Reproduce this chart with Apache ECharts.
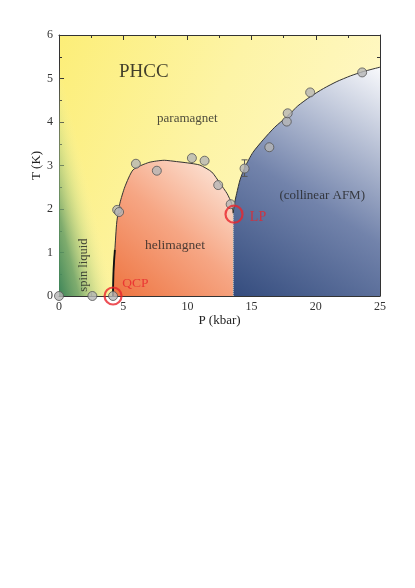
<!DOCTYPE html>
<html>
<head>
<meta charset="utf-8">
<script src="https://cdn.jsdelivr.net/npm/echarts@6/dist/echarts.min.js"></script>
<style>
html,body{margin:0;padding:0;background:#fff;}
#c{width:415px;height:588px;}
</style>
</head>
<body>
<div id="c"></div>
<script>
// ---- data ----
const xTicks = [0, 5, 10, 15, 20, 25];
const yTicks = [0, 1, 2, 3, 4, 5, 6];
// measured points (P kbar, T K)
const measP = [0, 2.6, 4.21, 4.53, 4.68, 5.99, 7.62, 10.35, 11.34, 12.4, 13.37, 14.45, 16.38, 17.74, 17.81, 19.56, 23.61];
const measT = [0, 0, 0, 1.98, 1.93, 3.04, 2.88, 3.17, 3.11, 2.55, 2.11, 2.93, 3.42, 4.01, 4.2, 4.68, 5.14];
// error bar on one point: [P, low, high]
const errBar = [[14.45, 2.75, 3.13]];
// helimagnet phase boundary
const heliP = [4.2, 4.25, 4.35, 4.5, 4.74, 5.13, 5.77, 7.0, 8.2, 9.16, 10.0, 10.97, 11.9, 12.54, 13.1, 13.44, 13.57];
const heliT = [0, 0.6, 1.06, 1.7, 2.13, 2.51, 2.9, 3.07, 3.12, 3.09, 3.06, 3.01, 2.85, 2.59, 2.35, 2.13, 1.9];
// collinear AFM phase boundary
const afmP = [13.57, 13.65, 13.84, 14.1, 14.49, 15.1, 15.9, 16.8, 17.74, 18.6, 19.56, 20.6, 21.64, 22.7, 23.7, 25];
const afmT = [1.9, 2.1, 2.36, 2.67, 2.97, 3.3, 3.59, 3.88, 4.12, 4.37, 4.58, 4.77, 4.93, 5.06, 5.16, 5.26];
// special points
const specialNames = ['QCP', 'LP'];
const specialP = [4.21, 13.63];
const specialT = [0, 1.88];
// region labels
const labelTexts = ['PHCC', 'paramagnet', 'helimagnet', '(collinear AFM)', 'spin liquid', 'QCP', 'LP'];
const labelP = [6.6, 10.0, 9.03, 20.5, 1.93, 5.95, 15.5];
const labelT = [5.15, 4.07, 1.17, 2.3, 0.71, 0.28, 1.8];

// ---- chart ----
const serif = '"Liberation Serif","DejaVu Serif",serif';
const chart = echarts.init(document.getElementById('c'), null, {renderer: 'canvas'});
const zip = (a, b) => a.map((v, i) => [v, b[i]]);

const heliArea = [[heliP[0], 0]].concat(zip(heliP, heliT)).concat([[heliP[heliP.length - 1], 0]]);
const afmArea = [[afmP[0], 0]].concat(zip(afmP, afmT));

const labelStyles = {
  'PHCC': {fontSize: 19, color: '#111'},
  'paramagnet': {fontSize: 13, color: '#222'},
  'helimagnet': {fontSize: 13.5, color: '#222'},
  '(collinear AFM)': {fontSize: 13, color: '#222'},
  'spin liquid': {fontSize: 12.5, color: '#222', rotate: 90},
  'QCP': {fontSize: 13.5, color: '#e8242c'},
  'LP': {fontSize: 14, color: '#e8242c'}
};

const axisCommon = {
  type: 'value',
  axisLine: {show: true, onZero: false, lineStyle: {color: '#333', width: 1}},
  axisTick: {show: true, inside: true, length: 5, lineStyle: {color: '#333'}},
  minorTick: {show: true, splitNumber: 2, length: 3, lineStyle: {color: '#333'}},
  splitLine: {show: false},
  axisLabel: {fontFamily: serif, fontSize: 12, color: '#333'}
};

chart.setOption({
  animation: false,
  grid: {
    left: 59, right: 35, top: 35, bottom: 292, show: true, borderWidth: 0,
    backgroundColor: new echarts.graphic.LinearGradient(0, 0, 1, 0.5, [
      {offset: 0, color: '#fcee78'},
      {offset: 0.5, color: '#fdf4a6'},
      {offset: 1, color: '#fff8c8'}
    ])
  },
  xAxis: [
    Object.assign({}, axisCommon, {
      min: 0, max: 25, interval: 5, position: 'bottom',
      name: 'P (kbar)', nameLocation: 'middle', nameGap: 18, nameMoveOverlap: false,
      nameTextStyle: {fontFamily: serif, fontSize: 13, color: '#222'},
      axisLabel: Object.assign({}, axisCommon.axisLabel, {margin: 5})
    }),
    Object.assign({}, axisCommon, {
      min: 0, max: 25, interval: 5, position: 'top', axisLabel: {show: false}
    })
  ],
  yAxis: [
    Object.assign({}, axisCommon, {
      min: 0, max: 6, interval: 1, position: 'left',
      name: 'T (K)', nameLocation: 'middle', nameGap: 16, nameMoveOverlap: false,
      nameTextStyle: {fontFamily: serif, fontSize: 13, color: '#222'},
      axisLabel: Object.assign({}, axisCommon.axisLabel, {margin: 6})
    }),
    Object.assign({}, axisCommon, {
      min: 0, max: 6, interval: 1, position: 'right', axisLabel: {show: false}
    })
  ],
  series: [
    {
      // spin-liquid green shading
      type: 'line', name: 'spin liquid', data: [[0, 6], [7, 6]], symbol: 'none',
      lineStyle: {width: 0}, z: 1, silent: true,
      areaStyle: {
        origin: 'start',
        color: new echarts.graphic.LinearGradient(0, 1, 0.6, 0.95, [
          {offset: 0, color: 'rgba(60,132,88,1)'},
          {offset: 0.35, color: 'rgba(105,160,104,0.85)'},
          {offset: 0.7, color: 'rgba(190,215,140,0.45)'},
          {offset: 1, color: 'rgba(250,245,170,0)'}
        ]), opacity: 1
      }
    },
    {
      type: 'line', name: 'helimagnet', data: heliArea, symbol: 'none', smooth: 0.2,
      lineStyle: {width: 0}, z: 2, silent: true,
      areaStyle: {
        origin: 'start',
        color: new echarts.graphic.LinearGradient(0, 1, 1, 0, [
          {offset: 0, color: '#ee7440'},
          {offset: 0.5, color: '#f6a684'},
          {offset: 1, color: '#fdeee4'}
        ]), opacity: 1
      }
    },
    {
      type: 'line', name: 'AFM', data: afmArea, symbol: 'none', smooth: 0.2,
      lineStyle: {width: 0}, z: 2, silent: true,
      areaStyle: {
        origin: 'start',
        color: new echarts.graphic.LinearGradient(0, 1, 1, 0, [
          {offset: 0, color: '#344c7e'},
          {offset: 0.45, color: '#7283ab'},
          {offset: 1, color: '#f8f9fc'}
        ]), opacity: 1
      }
    },
    {
      type: 'line', data: zip(heliP, heliT), symbol: 'none', smooth: 0.2, z: 3,
      lineStyle: {color: '#333', width: 1}, silent: true
    },
    {
      type: 'line', data: zip(heliP.slice(0, 3), heliT.slice(0, 3)), symbol: 'none', smooth: 0.2, z: 3,
      lineStyle: {color: '#111', width: 1.8}, silent: true
    },
    {
      type: 'line', data: zip(afmP, afmT), symbol: 'none', smooth: 0.2, z: 3,
      lineStyle: {color: '#333', width: 1}, silent: true
    },
    {
      type: 'line', data: [[afmP[0], 0], [afmP[0], afmT[0]]], symbol: 'none', z: 3,
      lineStyle: {color: '#c8c8c8', width: 1, type: 'dotted'}, silent: true
    },
    {
      type: 'custom', z: 4, data: errBar, clip: false,
      renderItem: function (params, api) {
        const top = api.coord([api.value(0), api.value(2)]);
        const bot = api.coord([api.value(0), api.value(1)]);
        const w = 3;
        const st = {stroke: '#555', lineWidth: 1};
        return {type: 'group', children: [
          {type: 'line', shape: {x1: top[0], y1: top[1], x2: bot[0], y2: bot[1]}, style: st},
          {type: 'line', shape: {x1: top[0] - w, y1: top[1], x2: top[0] + w, y2: top[1]}, style: st},
          {type: 'line', shape: {x1: bot[0] - w, y1: bot[1], x2: bot[0] + w, y2: bot[1]}, style: st}
        ]};
      }
    },
    {
      type: 'scatter', data: zip(measP, measT), symbol: 'circle', symbolSize: 9, z: 5, clip: false,
      itemStyle: {color: '#b5b5b5', borderColor: '#555', borderWidth: 1}
    },
    {
      type: 'scatter', data: zip(specialP, specialT).map((v, i) => ({name: specialNames[i], value: v})),
      symbol: 'circle', symbolSize: 17, z: 6, clip: false,
      itemStyle: {color: 'rgba(0,0,0,0)', borderColor: '#e8242c', borderWidth: 2.2}
    },
    {
      type: 'scatter', z: 7, symbolSize: 0, clip: false, silent: true,
      data: labelTexts.map((t, i) => ({
        name: t, value: [labelP[i], labelT[i]],
        label: Object.assign({show: true, position: 'inside', formatter: t, fontFamily: serif},
                             labelStyles[t])
      }))
    }
  ]
});
</script>
</body>
</html>
